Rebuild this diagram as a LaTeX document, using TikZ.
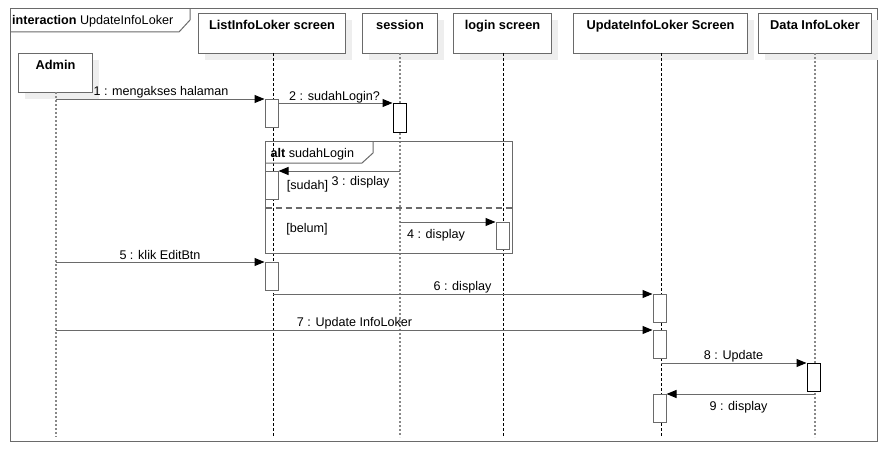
\documentclass[tikz,border=0pt]{standalone}
\usepackage{fontspec}
\setmainfont{Liberation Sans}
\usetikzlibrary{arrows.meta,calc}
\definecolor{ln}{HTML}{6A6A6A}
\definecolor{shd}{HTML}{EEEEEE}
\newcommand{\lifehead}[6]{%
  \fill[shd] (#2+7,#4+7) rectangle (#3+7,#5+7);
  \node[headbox, minimum width={(#3-#2)*1pt}, minimum height={(#5-#4)*1pt}, anchor=north west] (#1) at (#2,#4) {};
  \node[headtxt, anchor=north] (#1t) at ($(#1.north)+(0,7)$) {#6};
}
\begin{document}
\begin{tikzpicture}[x=1pt,y=-1pt,
  headbox/.style={draw=ln, fill=white, line width=1pt, inner sep=0pt},
  headtxt/.style={font=\fontsize{12.8}{14}\selectfont\bfseries, inner sep=0pt},
  lbl/.style={font=\fontsize{12.6}{14}\selectfont, inner sep=0pt},
  frame/.style={draw=ln, line width=1pt},
  lifeg/.style={draw=ln!80, line width=1.4pt, dash pattern=on 2pt off 2pt},
  lifek/.style={draw=black, line width=0.8pt, dash pattern=on 3pt off 2pt},
  act/.style={draw=ln, fill=white, line width=1pt, minimum width=13pt, inner sep=0pt, anchor=north},
  msg/.style={draw=ln, line width=1pt, -{Triangle[length=10pt,width=8pt,color=black]}}
]
\useasboundingbox (0,0) rectangle (888,452);
% outer frame
\draw[frame] (10,9) rectangle (877,441);
\draw[frame] (10,32) -- (179,32) -- (190,20) -- (190,9);
\node[lbl, anchor=west] (ttl) at (12,21.5) {\textbf{interaction} UpdateInfoLoker};
% heads
\lifehead{A}{18}{92}{53}{92}{Admin}
\lifehead{L}{198}{345}{13}{53}{ListInfoLoker screen}
\lifehead{S}{362}{437}{13}{53}{session}
\lifehead{G}{453}{551}{13}{53}{login screen}
\lifehead{U}{573}{747}{13}{53}{UpdateInfoLoker Screen}
\lifehead{D}{758}{871}{13}{53}{Data InfoLoker}
% lifeline ends
\coordinate (Ae) at (56,437);
\coordinate (Le) at (273,437);
\coordinate (Se) at (400,437);
\coordinate (Ge) at (503,437);
\coordinate (Ue) at (661,437);
\coordinate (De) at (815,437);
\draw[lifeg] (56,92) -- (Ae);
\draw[lifek] (273,53) -- (Le);
\draw[lifeg] (400,53) -- (Se);
\draw[lifek] (503,53) -- (Ge);
\draw[lifek] (661,53) -- (Ue);
\draw[lifeg] (815,53) -- (De);
% alt frame
\draw[frame] (265.5,141.5) rectangle (512,253);
\draw[frame] (265.5,163) -- (362,163) -- (373,153) -- (373,141.5);
\node[lbl, anchor=west] (altt) at (270.5,154) {\textbf{alt} sudahLogin};
\draw[draw=ln, line width=1.3pt, dash pattern=on 6pt off 4pt] (265.5,208) -- (512,208);
\node[lbl] (g1) at (307.5,186) {[sudah]};
\node[lbl] (g2) at (307,229) {[belum]};
% activations
\node[act, minimum height=28pt] (a1) at (271.5,99) {};
\node[act, minimum height=29pt, draw=black] (a2) at (399.5,103) {};
\node[act, minimum height=28pt] (a3) at (271.5,171) {};
\node[act, minimum height=27pt] (a4) at (502.5,222) {};
\node[act, minimum height=28pt] (a5) at (271.5,262) {};
\node[act, minimum height=28pt] (a6) at (659.5,294) {};
\node[act, minimum height=28pt] (a7) at (659.5,330) {};
\node[act, minimum height=28pt, draw=black] (a8) at (813.5,363) {};
\node[act, minimum height=28pt] (a9) at (659.5,394) {};
% messages
\draw[msg] (A.south |- a1.north) -- (a1.north west);
\draw[msg] (a1.east |- a2.north) -- (a2.north west);
\draw[msg] (Se |- a3.north) -- (a3.north east);
\draw[msg] (Se |- a4.north) -- (a4.north west);
\draw[msg] (A.south |- a5.north) -- (a5.north west);
\draw[msg] (Le |- a6.north) -- (a6.north west);
\draw[msg] (A.south |- a7.north) -- (a7.north west);
\draw[msg] (Ue |- a8.north) -- (a8.north west);
\draw[msg] (De |- a9.north) -- (a9.north east);
% labels
\node[lbl] (l1) at (161,92) {1 : mengakses halaman};
\node[lbl] (l2) at (334.5,97) {2 : sudahLogin?};
\node[lbl] (l3) at (360.5,182.5) {3 : display};
\node[lbl] (l4) at (436,235) {4 : display};
\node[lbl] (l5) at (160,255) {5 : klik EditBtn};
\node[lbl] (l6) at (462.5,287) {6 : display};
\node[lbl] (l7) at (354.5,323) {7 : Update InfoLoker};
\node[lbl] (l8) at (733.5,356) {8 : Update};
\node[lbl] (l9) at (738.5,407) {9 : display};
\end{tikzpicture}
\end{document}
